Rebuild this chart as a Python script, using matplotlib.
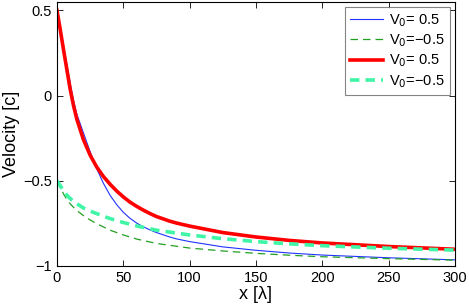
import numpy as np
import matplotlib.pyplot as plt

plt.rcParams['font.family'] = ['Liberation Sans', 'DejaVu Sans']

# data
x1 = [0, 2.5, 5, 7.5, 10, 12.5, 15, 20, 25, 30, 35, 40, 45, 50, 55, 60, 65, 70, 75, 85, 90,
      100, 125, 150, 175, 200, 250, 300]
v_blue = [0.5, 0.4, 0.29, 0.18, 0.07, -0.03, -0.11, -0.22, -0.33, -0.43, -0.515, -0.585, -0.64,
          -0.685, -0.72, -0.748, -0.77, -0.788, -0.804, -0.83, -0.841, -0.857, -0.888, -0.908,
          -0.924, -0.936, -0.952, -0.964]
v_red = [0.5, 0.385, 0.265, 0.15, 0.035, -0.06, -0.14, -0.26, -0.35, -0.42, -0.475, -0.52, -0.56,
         -0.595, -0.625, -0.65, -0.672, -0.692, -0.71, -0.737, -0.748, -0.766, -0.804, -0.83,
         -0.85, -0.865, -0.886, -0.902]

x2 = [0, 2.5, 5, 7.5, 10, 15, 20, 25, 30, 40, 50, 60, 75, 100, 125, 150, 175, 200, 250, 300]
v_green = [-0.5, -0.54, -0.578, -0.61, -0.636, -0.675, -0.705, -0.73, -0.752, -0.79, -0.818, -0.842,
           -0.868, -0.895, -0.912, -0.926, -0.937, -0.946, -0.957, -0.966]
v_cyan = [-0.5, -0.53, -0.56, -0.585, -0.605, -0.635, -0.66, -0.678, -0.693, -0.722, -0.745, -0.765,
          -0.79, -0.818, -0.84, -0.857, -0.87, -0.881, -0.896, -0.907]

fig = plt.figure(figsize=(4.69, 3.05), dpi=100)
ax = fig.add_axes([0.1215, 0.128, 0.8485, 0.866])

ax.plot(x1, v_blue, color='#2233ff', lw=0.8, label='V$_0$= 0.5')
ax.plot(x2, v_green, color='#22a022', lw=0.9, dashes=(6, 4), label='V$_0$=\u22120.5')
ax.plot(x1, v_red, color='#ff0000', lw=2.6, label='V$_0$= 0.5')
ax.plot(x2, v_cyan, color='#40f5a5', lw=2.6, dashes=(2.6, 1.7), label='V$_0$=\u22120.5')

ax.set_xlim(0, 300)
ax.set_ylim(-1, 0.55)
ax.set_xticks([0, 50, 100, 150, 200, 250, 300])
ax.set_yticks([-1, -0.5, 0, 0.5])
ax.set_yticklabels(['\u22121', '\u22120.5', '0', '0.5'])
ax.tick_params(direction='in', top=True, right=True, labelsize=10.5, length=4, width=0.6)
for s in ax.spines.values():
    s.set_linewidth(0.8)

ax.set_xlabel('x [\u03bb]', fontsize=13, labelpad=1)
ax.set_ylabel('Velocity [c]', fontsize=13, labelpad=2)

leg = ax.legend(loc='upper right', fontsize=10.5, fancybox=False, edgecolor='#666666',
                handlelength=2.3, handletextpad=0.4, labelspacing=0.25, borderpad=0.35,
                borderaxespad=0.35)
leg.get_frame().set_linewidth(0.8)

fig.savefig('out.png', dpi=100)
